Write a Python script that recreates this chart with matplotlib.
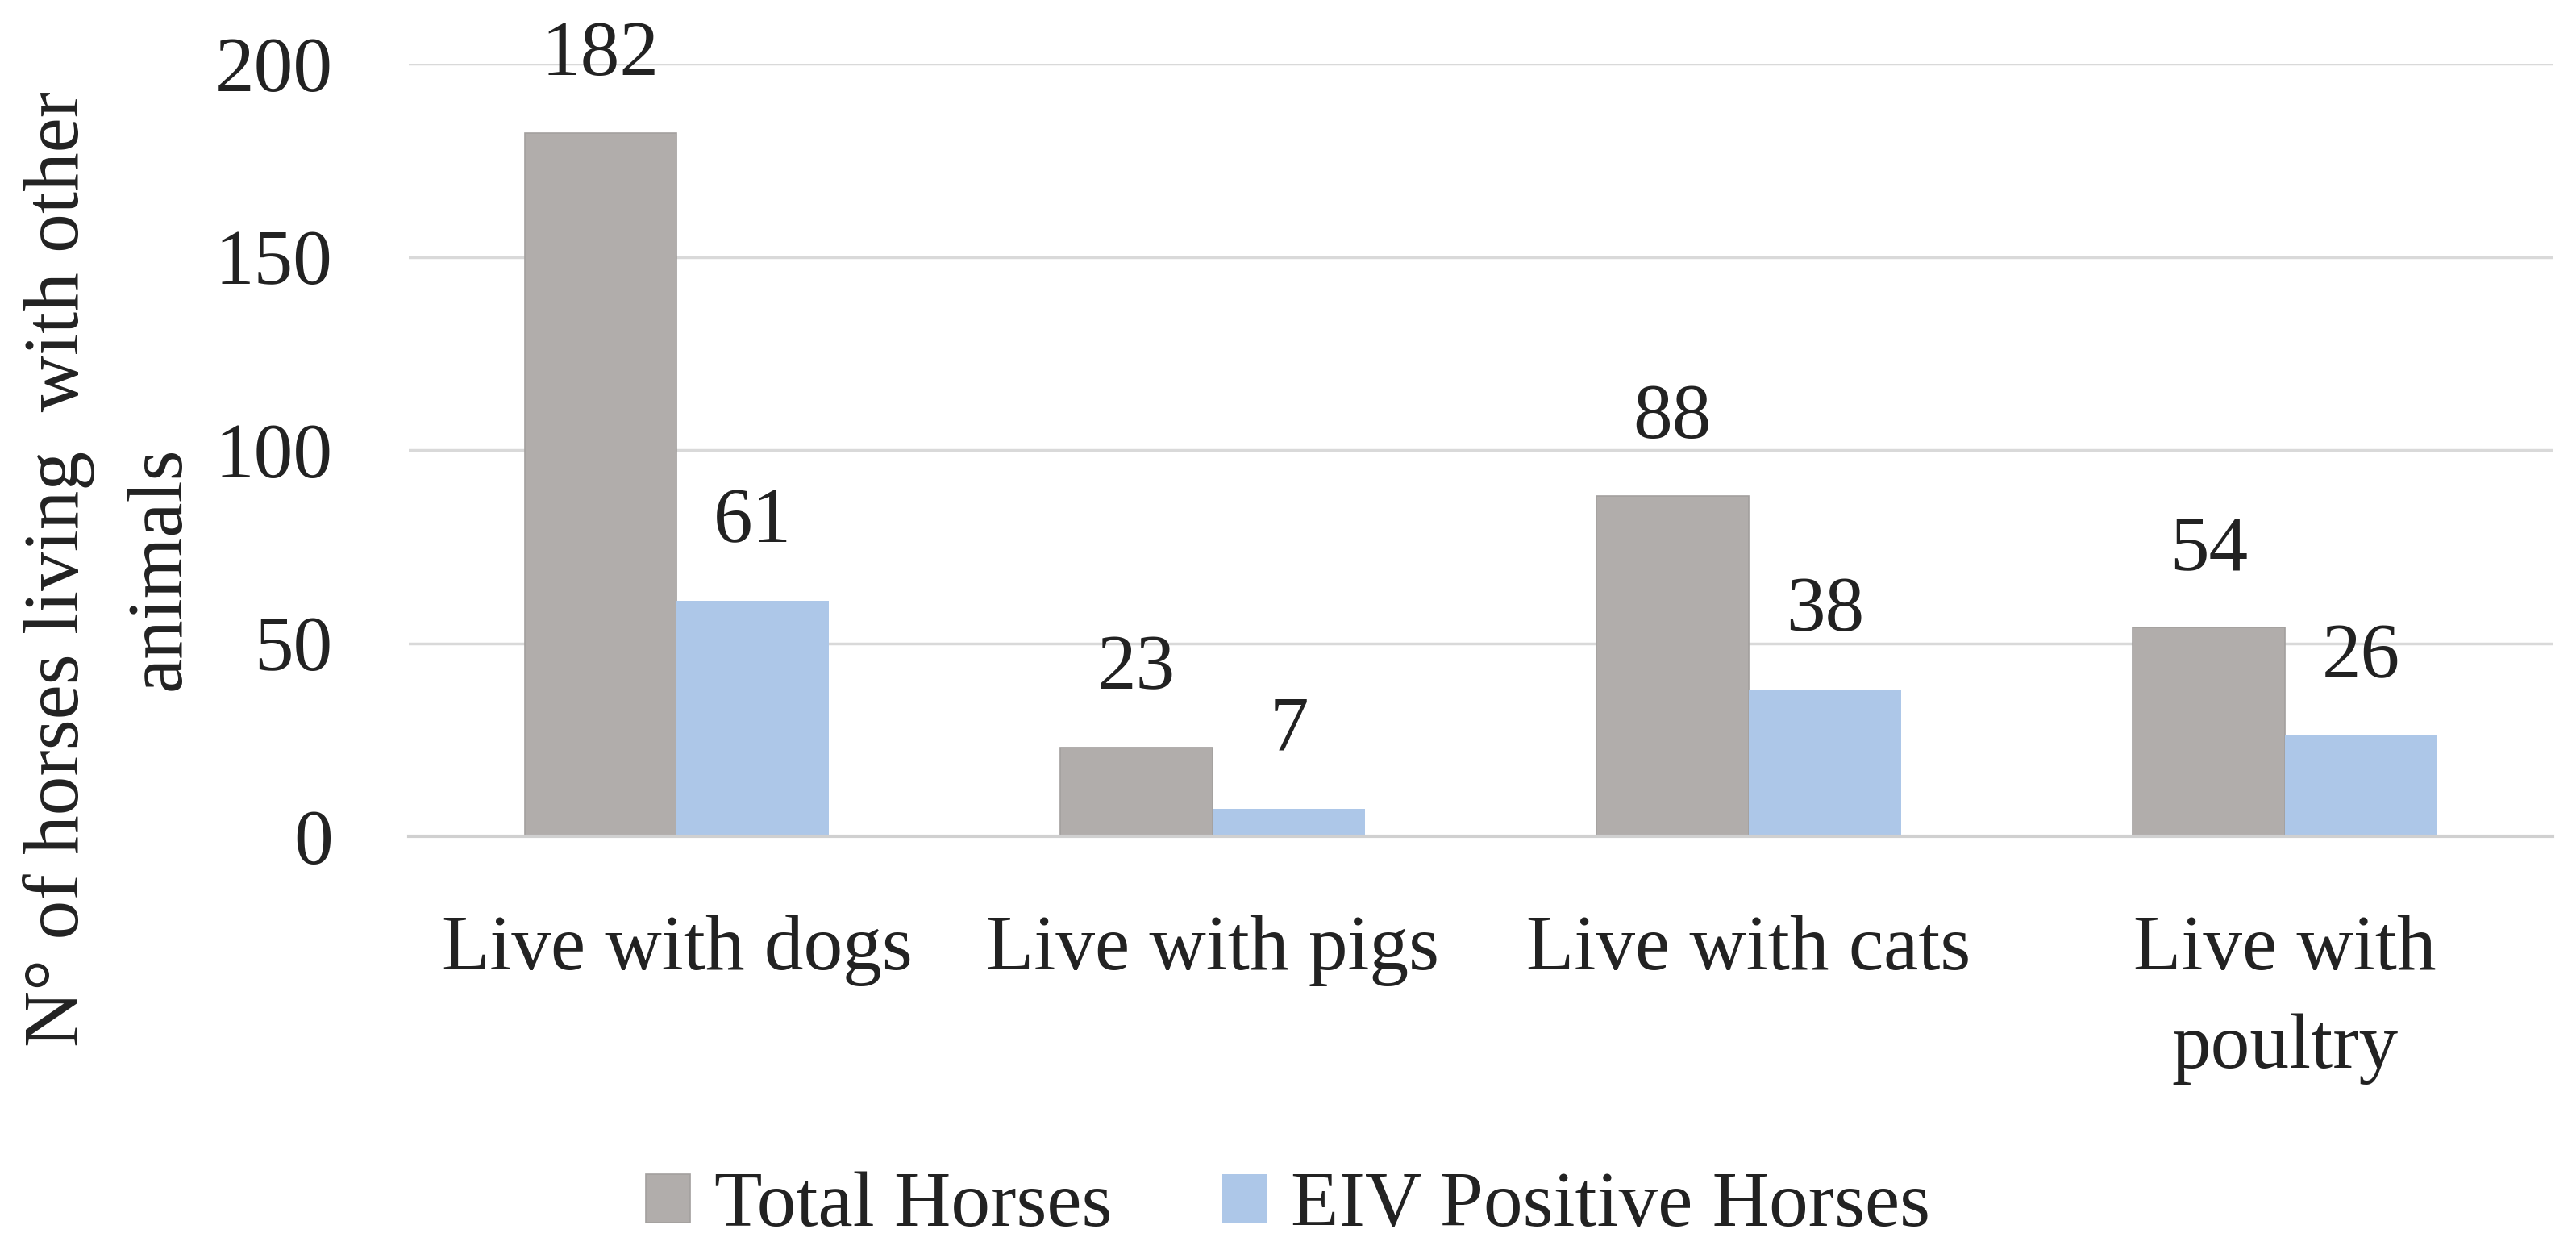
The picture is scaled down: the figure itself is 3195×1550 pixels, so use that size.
import matplotlib
matplotlib.use("Agg")
import matplotlib.pyplot as plt
import numpy as np

categories = ["Live with dogs", "Live with pigs", "Live with cats", "Live with\npoultry"]
total_horses = [182, 23, 88, 54]
eiv_positive = [61, 7, 38, 26]
series_names = ["Total Horses", "EIV Positive Horses"]
yticks = [0, 50, 100, 150, 200]
ylabel = "N° of horses living  with other\nanimals"

FS = 70
TXT = "#222222"
plt.rcParams['font.family'] = ['Liberation Serif', 'DejaVu Serif']

fig = plt.figure(figsize=(31.95, 15.5), dpi=100)
ax = fig.add_axes([507/3195, 1 - 1037/1550, (3166-507)/3195, (1037-79)/1550])

x = np.arange(len(categories))
w = 0.284
b1 = ax.bar(x - w/2, total_horses, w, color="#B1ADAB", edgecolor="#A3A09E", linewidth=1.2,
            label=series_names[0], zorder=3)
b2 = ax.bar(x + w/2, eiv_positive, w, color="#ADC7E8", edgecolor="none",
            label=series_names[1], zorder=3)

for bars, vals in ((b1, total_horses), (b2, eiv_positive)):
    for r, v in zip(bars, vals):
        ax.annotate(str(v), (r.get_x() + r.get_width()/2, v), xytext=(0, 69),
                    textcoords="offset points", ha="center", va="center",
                    fontsize=FS, color=TXT)

ax.set_xlim(-0.5, len(categories) - 0.5)
ax.set_ylim(0, 200)
ax.set_yticks(yticks)
ax.set_yticklabels([str(t) for t in yticks])
ax.set_xticks(x)
ax.set_xticklabels(categories, linespacing=1.5)
ax.tick_params(axis="y", length=0, pad=68, labelsize=FS, labelcolor=TXT)
ax.tick_params(axis="x", length=0, pad=70, labelsize=FS, labelcolor=TXT)
ax.yaxis.grid(True, color="#D9D9D9", linewidth=2.5, zorder=0)
ax.set_axisbelow(True)
for s in ["top", "right", "left"]:
    ax.spines[s].set_visible(False)
ax.spines["bottom"].set_color("#D0D0D0")
ax.spines["bottom"].set_linewidth(3)
ax.spines["bottom"].set_zorder(4)

fig.text(136/3195, 1 - 705/1550, ylabel, rotation=90, ha="center", va="center",
         multialignment="center", fontsize=FS, color=TXT, linespacing=1.55)

fig.legend(handles=[b1, b2], labels=series_names, loc="center",
           bbox_to_anchor=(0.5, 1 - 1497/1550), ncol=2, frameon=False,
           fontsize=FS, handlelength=0.57, handleheight=0.57, handletextpad=0.31,
           columnspacing=1.4, borderpad=0, labelcolor=TXT)

fig.savefig("out.png", dpi=100, facecolor="white")
